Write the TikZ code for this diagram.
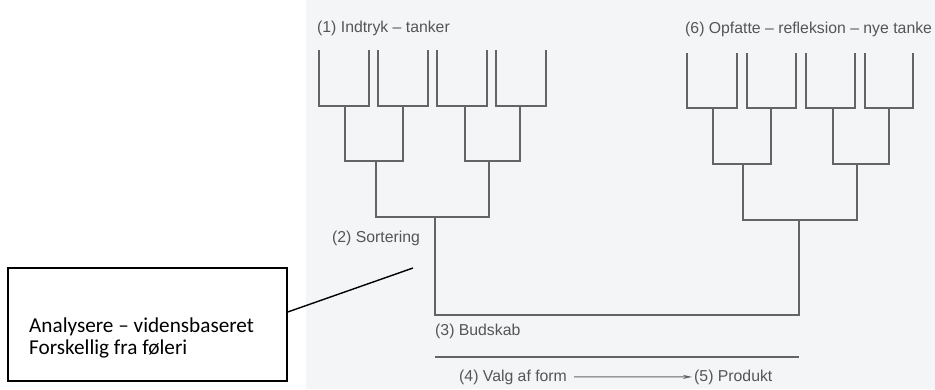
\documentclass[tikz,border=0pt]{standalone}
\usepackage{fontspec}
\setmainfont{Liberation Sans}
\newfontfamily\notefont{Carlito}
\usetikzlibrary{arrows.meta,positioning}
\definecolor{scanbg}{RGB}{243,245,247}
\definecolor{inkgray}{RGB}{100,100,100}
\definecolor{textgray}{RGB}{85,85,85}

\begin{document}
\begin{tikzpicture}[x=1pt,y=-1pt,
    branch/.style={draw=inkgray,line width=1.4pt},
    scantext/.style={text=textgray,font=\fontsize{15.8}{18}\selectfont,inner sep=2pt,anchor=base west},
    notebox/.style={draw,line width=1.4pt,minimum width=279pt,minimum height=113pt,inner sep=0pt},
    notetext/.style={font=\notefont\fontsize{21.2}{22}\selectfont,align=left,inner sep=0pt,anchor=base west}]
  \useasboundingbox (0,0) rectangle (935,389);
  \fill[scanbg] (306,0) rectangle (935,389);
  % left tree
  \foreach \a/\b/\t/\u in {319/369/50/106,378/428/50/106,437/487/50/106,496/546/50/106,
                          345/403/106/161,465/520/106/161,376/489/161/217}
    \draw[branch] (\a,\t) |- (\b,\u) -- (\b,\t);
  % right tree
  \foreach \a/\b/\t/\u in {687/737/53/108,747/796/53/108,806/855/53/108,865/913/53/108,
                          713/771/108/164,833/889/108/164,743/857/164/220}
    \draw[branch] (\a,\t) |- (\b,\u) -- (\b,\t);
  \coordinate (sortroot) at (435,217);
  \coordinate (reflroot) at (799,220);
  \draw[branch] (sortroot) |- ([yshift=-95pt]reflroot) -- (reflroot);

  \node[scantext] (indtryk) at (315,32) {(1) Indtryk – tanker};
  \node[scantext] (opfatte) at (683,33) {(6) Opfatte – refleksion – nye tanke};
  \node[scantext] (sortering) at (330,242) {(2) Sortering};
  \node[scantext] (budskab) at (433,335) {(3) Budskab};
  \node[scantext] (valg) at (457,381) {(4) Valg af form};
  \node[scantext] (produkt) at (692,381) {(5) Produkt};
  \coordinate (formstart) at (435,357);
  \coordinate (formend) at (799,357);
  \draw[branch] (formstart) -- (formend);
  \draw[-{Stealth[length=9pt,width=4pt]},line width=0.9pt,inkgray,shorten <=5pt] (valg) -- (produkt);

  % note box
  \node[notebox] (note) at (147.5,324.5) {};
  \node[notetext] (notetxt) at (29,354) {Analysere – vidensbaseret\\Forskellig fra føleri};
  \coordinate (pt) at (413,268);
  \draw[line width=1.4pt] ([yshift=12.5pt]note.east) -- (pt);
\end{tikzpicture}
\end{document}
